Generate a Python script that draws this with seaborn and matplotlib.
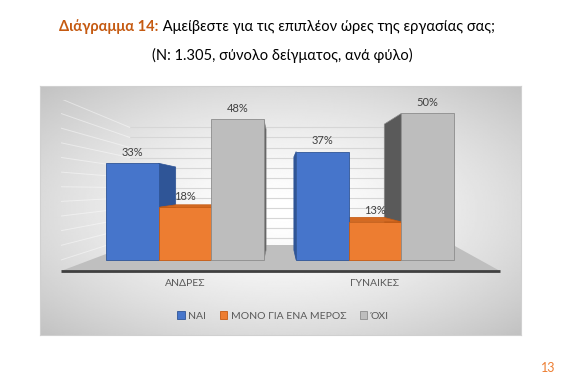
import numpy as np
import pandas as pd
import matplotlib
matplotlib.use('Agg')
import matplotlib.pyplot as plt
from matplotlib.patches import Polygon, Patch
import seaborn as sns

# Data
groups = ['ΑΝΔΡΕΣ', 'ΓΥΝΑΙΚΕΣ']
answers = ['ΝΑΙ', 'ΜΟΝΟ ΓΙΑ ΕΝΑ ΜΕΡΟΣ', 'ΌΧΙ']
yes_vals = [33, 37]
partly_vals = [18, 13]
no_vals = [48, 50]

colors = ['#4675CB', '#ED7D31', '#BDBDBD']
edge_colors = ['#2F5597', '#C55A11', '#8C8C8C']
side_colors = ['#2F5597', '#B8581A', '#5A5A5A']
top_colors = ['#3A64B0', '#D46A22', '#A6A6A6']

title_bold = 'Διάγραμμα 14:'
title_rest = ' Αμείβεστε για τις επιπλέον ώρες της εργασίας σας;'
subtitle = '(Ν: 1.305, σύνολο δείγματος, ανά φύλο)'

df = pd.DataFrame({
    'group': groups * 3,
    'answer': [answers[0]] * 2 + [answers[1]] * 2 + [answers[2]] * 2,
    'value': yes_vals + partly_vals + no_vals,
})

sns.set_style('white')
plt.rcParams['font.family'] = ['Lato', 'DejaVu Sans']

W, H = 564, 375
fig = plt.figure(figsize=(W / 100, H / 100), dpi=100)
fig.patch.set_facecolor('white')


def px(x0, y0, x1, y1):
    # pixel box (top-left origin) -> figure fraction rect
    return [x0 / W, 1 - y1 / H, (x1 - x0) / W, (y1 - y0) / H]


# chart area background with a radial grey gradient
bg = fig.add_axes(px(40, 86, 521, 335))
gx, gy = np.meshgrid(np.linspace(-1, 1, 300), np.linspace(-1, 1, 200))
r = np.sqrt(gx ** 2 + gy ** 2) / np.sqrt(2)
shade = 1 - 0.24 * r ** 1.5
bg.imshow(shade, cmap='gray', vmin=0, vmax=1, aspect='auto',
          extent=[0, 1, 0, 1], interpolation='bilinear')
bg.set_xticks([])
bg.set_yticks([])
for s in bg.spines.values():
    s.set_color('#d0d0d0')
    s.set_linewidth(0.8)

# plot axes
ax = fig.add_axes(px(61, 100, 500, 271))
ax.set_facecolor('none')
sns.barplot(data=df, x='group', y='value', hue='answer', hue_order=answers,
            palette=colors, width=0.83, gap=0, saturation=1, legend=False,
            ax=ax, zorder=3)
bars = list(ax.patches)

ax.set_xlim(-0.6526, 1.658)
ax.set_ylim(-3.754, 54.6)

# pseudo 3D perspective: vanishing point and depth
xv, yv, k = 0.5, 24.0, 0.14
kw = 0.315  # depth of walls/floor

# floor (axes fraction)
floor = Polygon([(0, 0), (0.157, 0.152), (0.893, 0.152), (1, 0)],
                closed=True, transform=ax.transAxes, facecolor='#bfbfbf',
                edgecolor='none', zorder=0.5)
ax.add_patch(floor)
ax.plot([0, 1], [0, 0], transform=ax.transAxes, color='#404040', lw=2,
        solid_capstyle='butt', zorder=0.6, clip_on=False)

# back wall and left wall gridlines
xbl, xbr, xfl = -0.29, 1.41, -0.6526
for v in range(0, 60, 5):
    yb = v + kw * (yv - v)
    ax.plot([xbl, xbr], [yb, yb], color='#d6d6d6', lw=0.8, zorder=0.4)
    ax.plot([xfl, xbl], [v, yb], color='white', lw=0.7, alpha=0.45, zorder=0.4)

# side and top faces of each bar
for i, p in enumerate(bars):
    ci = i // len(groups)
    x0, x1 = p.get_x(), p.get_x() + p.get_width()
    h = p.get_height()
    bx0, bx1 = x0 + k * (xv - x0), x1 + k * (xv - x1)
    b0, bh = k * yv, h + k * (yv - h)
    if x1 < xv:
        side = [(x1, 0), (x1, h), (bx1, bh), (bx1, b0)]
    else:
        side = [(x0, 0), (x0, h), (bx0, bh), (bx0, b0)]
    ax.add_patch(Polygon(side, closed=True, facecolor=side_colors[ci],
                         edgecolor=edge_colors[ci], lw=0.5, zorder=1.5))
    if h < yv:
        top = [(x0, h), (x1, h), (bx1, bh), (bx0, bh)]
        ax.add_patch(Polygon(top, closed=True, facecolor=top_colors[ci],
                             edgecolor=edge_colors[ci], lw=0.5, zorder=1.6))
    p.set_edgecolor(edge_colors[ci])
    p.set_linewidth(0.6)

for c in ax.containers:
    ax.bar_label(c, fmt='{:.0f}%', padding=4, fontsize=8, color='#404040',
                 zorder=4)

for s in ax.spines.values():
    s.set_visible(False)
ax.set_yticks([])
ax.set_xlabel('')
ax.set_ylabel('')
ax.tick_params(axis='x', length=0, pad=6, labelsize=7.5, labelcolor='#595959')

# legend
handles = [Patch(facecolor=colors[i], edgecolor=edge_colors[i], lw=0.6,
                 label=answers[i]) for i in range(3)]
fig.legend(handles=handles, loc='center', bbox_to_anchor=(283 / W, 1 - 316 / H),
           ncol=3, frameon=False, fontsize=7.5, handlelength=0.7,
           handleheight=0.7, handletextpad=0.35, columnspacing=1.3,
           labelcolor='#595959')

# title, two runs on one line
renderer = fig.canvas.get_renderer()
t1 = fig.text(0, 1 - 27 / H, title_bold, fontsize=10.5, fontweight='bold',
              color='#C55A11', va='center')
t2 = fig.text(0, 1 - 27 / H, title_rest, fontsize=10.5, color='black',
              va='center')
w1 = t1.get_window_extent(renderer).width
w2 = t2.get_window_extent(renderer).width
start = 277 - (w1 + w2) / 2
t1.set_x(start / W)
t2.set_x((start + w1) / W)
fig.text(282 / W, 1 - 55 / H, subtitle, fontsize=10.5, color='black',
         ha='center', va='center')

# page number at the bottom-right corner
fig.text(548 / W, 1 / H, '13', fontsize=9, color='#ED7D31',
         ha='center', va='bottom')

fig.savefig('out.png', dpi=100)
